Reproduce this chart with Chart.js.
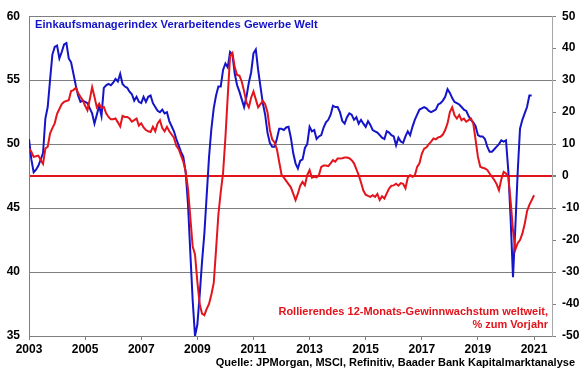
<!DOCTYPE html>
<html>
<head>
<meta charset="utf-8">
<script src="https://cdn.jsdelivr.net/npm/chart.js@4"></script>
<style>
  body { margin: 0; background: #fff; }
  #chart { display: block; }
</style>
</head>
<body>
<canvas id="chart" width="580" height="375"></canvas>
<script>
// Monthly values from Jan 2003
const startYear = 2003;
const yearTicks = [2003, 2005, 2007, 2009, 2011, 2013, 2015, 2017, 2019, 2021];

// PMI manufacturing global (left axis)
const pmi = [
  50.4, 48.8, 47.8, 48.0, 48.3, 48.8, 49.3, 52.0, 52.9, 55.0, 57.0, 57.6,
  57.7, 56.7, 57.2, 57.8, 57.9, 56.7, 56.4, 55.5, 54.6, 53.8, 53.3, 53.4,
  53.3, 53.2, 52.8, 52.4, 51.6, 52.3, 53.0, 52.2, 54.4, 54.6, 54.7, 54.6,
  54.8, 55.1, 54.9, 55.5, 54.7, 54.5, 54.4, 54.1, 53.9, 53.4, 53.7, 53.3,
  53.2, 53.7, 53.3, 53.7, 53.8, 53.2, 52.9, 52.6, 52.5, 52.7, 52.4, 52.5,
  51.8, 51.4, 51.0, 50.4, 49.9, 49.4, 49.0, 47.8, 45.3, 41.5, 37.8, 35.0,
  35.9, 38.2, 40.8, 43.0, 46.0, 49.0, 51.2, 52.8, 53.8, 54.5, 54.5, 55.8,
  56.3, 56.0, 57.2, 57.0, 55.5, 54.6, 54.1, 53.5, 52.9, 53.7, 54.8, 55.6,
  57.1, 57.4, 55.8, 54.5, 53.2, 52.3, 50.9, 50.1, 49.8, 49.8, 50.4, 51.2,
  51.2, 51.1, 51.3, 51.35, 50.5, 49.3, 48.5, 48.1, 48.7, 48.8, 49.7, 50.0,
  51.35, 51.0, 51.1, 50.4, 50.6, 50.7, 51.3, 51.7, 51.9, 52.3, 53.0, 52.9,
  52.9, 52.5, 51.8, 51.6, 52.1, 52.4, 52.3, 51.9, 52.1, 51.6, 51.9, 51.6,
  51.35, 51.8, 51.5, 51.1, 51.0, 50.9, 50.7, 50.5, 50.4, 51.0, 50.9, 50.7,
  50.6, 49.9, 50.5, 50.2, 50.1, 50.6, 51.0, 50.7, 51.35, 51.9, 52.3, 52.7,
  52.8, 52.9, 52.8, 52.6, 52.5, 52.6, 52.7, 53.1, 53.2, 53.4, 53.7, 54.3,
  54.0, 53.6, 53.3, 53.2, 53.1, 52.9, 52.7, 52.6, 52.2, 51.9, 51.7, 51.4,
  50.7, 50.6, 50.6, 50.4, 49.8, 49.4, 49.4, 49.6, 49.8, 50.0, 50.3, 50.2,
  50.3, 47.9, 44.1, 39.6, 43.5, 47.8, 51.2, 51.9, 52.4, 52.9, 53.8, 53.8
];

// Rolling 12-month earnings growth, % y/y (right axis)
const earnings = [
  8.6, 7.6, 6.0, 6.2, 6.4, 5.0, 3.8, 8.6, 9.2, 13.3, 15.0, 16.5,
  19.5, 21.0, 22.5, 23.2, 23.5, 23.7, 26.6, 26.9, 27.6, 26.0, 24.8, 23.7,
  22.0, 20.6, 24.0, 27.8, 24.8, 21.5, 22.6, 21.3, 21.6, 19.6, 18.5, 17.8,
  17.8, 18.0, 16.8, 15.5, 18.8, 18.5, 18.5, 18.0, 17.0, 17.5, 18.0, 15.8,
  16.5, 15.2, 14.4, 14.0, 13.8, 15.4, 14.0, 16.5, 17.5, 15.0, 14.0, 15.4,
  14.0, 13.0, 12.0, 9.5, 8.5, 6.5, 4.5, 1.5, -4, -13, -22, -24.5,
  -33, -40, -43, -43.5, -41.5, -40, -37, -33.5, -23, -12, -5, 1,
  12, 25, 37.5, 38.5, 34, 31.6, 31.4, 29.5, 26.5, 23, 21.5, 24.5,
  26.5, 24, 21.5, 22.5, 23.5, 22.5, 20.0, 14.5, 11.5, 10.5, 8.5, 4.5,
  0.5, -0.5, -1.5, -2.5, -3.5, -5.5, -7.5, -5.5, -3.0, -1.8, -2.9, 0.3,
  1.9, -0.5, -0.2, -0.4, 0.3, 2.9, 3.3, 3.3, 3.1, 4.0, 5.0, 4.5,
  5.5, 5.5, 5.6, 5.8, 5.8, 5.6, 5.0, 4.0, 2.2, 0.3, -2.0, -4.5,
  -5.8, -6.2, -6.5, -6.0, -6.5, -5.6, -7.5, -6.3, -7.0, -5.4, -3.9, -3.0,
  -2.9, -2.4, -3.0, -2.2, -2.4, -3.8, -0.5, 0.3, -0.2, 0.2, 2.9, 4.0,
  7.0, 8.6, 9.0, 10.0, 10.8, 11.8, 11.5, 12.1, 12.3, 13.0, 14.4, 16.5,
  20.0, 21.5, 19.0, 18.0, 19.1, 17.5, 18.0, 17.0, 17.5, 18.0, 16.5, 11.3,
  6.0, 2.9, 2.6, 2.4, 1.9, 0.8, -0.2, -1.2, -2.5, -4.4, -1.0, 1.3,
  0.8, -0.2, -8, -17, -23, -21, -20, -18, -15, -11, -9, -7.5,
  -6
];

const titleText = "Einkaufsmanagerindex Verarbeitendes Gewerbe Welt";
const noteLines = ["Rollierendes 12-Monats-Gewinnwachstum weltweit,", "% zum Vorjahr"];
const sourceText = "Quelle: JPMorgan, MSCI, Refinitiv, Baader Bank Kapitalmarktanalyse";

const BLUE = "#1414c8";
const RED = "#e3141c";
const GRID = "#7f7f7f";
const FONT = "'Liberation Sans', Arial, sans-serif";

const toPoints = arr => arr.map((v, i) => ({ x: startYear + i / 12, y: v }));

// texts inside and below the plot
const labelsPlugin = {
  id: "labels",
  afterDraw(chart) {
    const { ctx, chartArea } = chart;
    ctx.save();
    ctx.font = "bold 11.2px " + FONT;
    ctx.textBaseline = "middle";
    ctx.fillStyle = BLUE;
    ctx.textAlign = "left";
    ctx.fillText(titleText, chartArea.left + 6, chartArea.top + 9);
    ctx.fillStyle = RED;
    ctx.textAlign = "right";
    ctx.font = "bold 11px " + FONT;
    ctx.fillText(noteLines[0], chartArea.right - 4, chartArea.bottom - 24);
    ctx.fillText(noteLines[1], chartArea.right - 4, chartArea.bottom - 11);
    ctx.fillStyle = "#000";
    ctx.fillText(sourceText, chart.width - 5, 363);
    ctx.restore();
  }
};

new Chart(document.getElementById("chart"), {
  type: "line",
  data: {
    datasets: [
      {
        data: toPoints(earnings),
        yAxisID: "y1",
        borderColor: RED,
        borderWidth: 2,
        pointRadius: 0,
        tension: 0
      },
      {
        data: toPoints(pmi),
        yAxisID: "y",
        borderColor: BLUE,
        borderWidth: 2,
        pointRadius: 0,
        tension: 0
      }
    ]
  },
  plugins: [labelsPlugin],
  options: {
    responsive: false,
    animation: false,
    layout: { padding: { top: 16, left: 0, right: 0, bottom: 0 } },
    plugins: { legend: { display: false }, tooltip: { enabled: false } },
    scales: {
      x: {
        type: "linear",
        min: 2003,
        max: 2021.64,
        afterBuildTicks: axis => { axis.ticks = yearTicks.map(v => ({ value: v })); },
        afterFit: axis => { axis.height = 39; },
        grid: { drawOnChartArea: false, color: GRID, tickLength: 4 },
        border: { color: GRID },
        ticks: {
          autoSkip: false,
          maxRotation: 0,
          padding: 2,
          color: "#000",
          font: { family: FONT, size: 12, weight: "bold" },
          callback: v => String(v)
        }
      },
      y: {
        position: "left",
        min: 35,
        max: 60,
        afterFit: axis => { axis.width = 29; },
        grid: { color: GRID, drawTicks: false },
        border: { color: GRID },
        ticks: {
          stepSize: 5,
          padding: 9,
          color: "#000",
          font: { family: FONT, size: 12, weight: "bold" }
        }
      },
      y1: {
        position: "right",
        min: -50,
        max: 50,
        afterFit: axis => { axis.width = 28; },
        grid: {
          color: ctx => (ctx.tick && ctx.tick.value === 0 ? RED : "rgba(0,0,0,0)"),
          lineWidth: ctx => (ctx.tick && ctx.tick.value === 0 ? 2 : 1),
          tickColor: GRID,
          tickLength: 4
        },
        border: { color: "#a6a6a6" },
        ticks: {
          stepSize: 10,
          padding: 6,
          color: "#000",
          font: { family: FONT, size: 12, weight: "bold" }
        }
      }
    }
  }
});
</script>
</body>
</html>
